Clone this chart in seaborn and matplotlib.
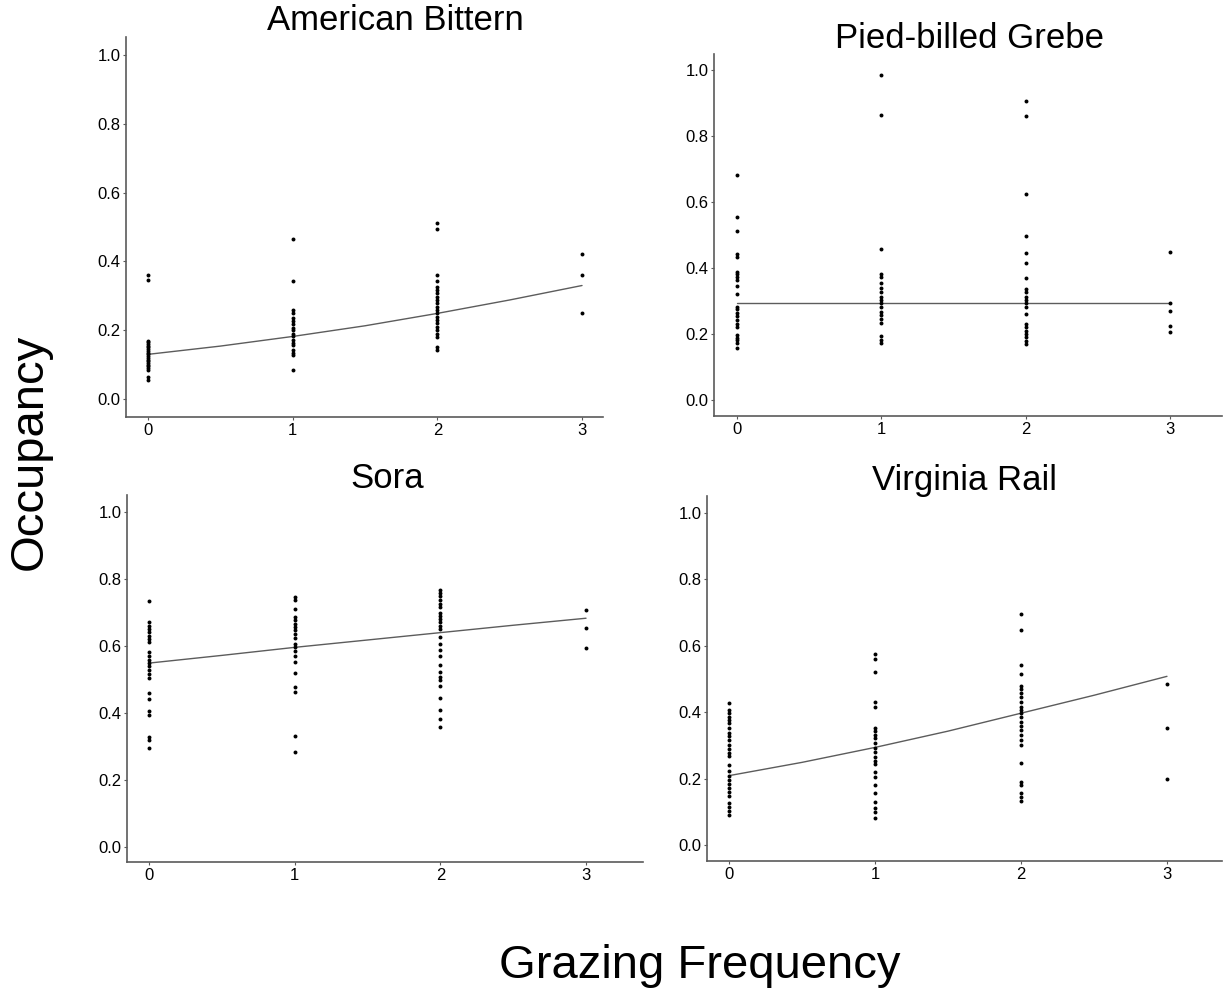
import matplotlib
matplotlib.use("Agg")
import matplotlib.pyplot as plt
import seaborn as sns
import pandas as pd

# ---------------- data ----------------
species = ["American Bittern", "Pied-billed Grebe", "Sora", "Virginia Rail"]
grazing_levels = [0, 1, 2, 3]

ab_g0 = [0.36, 0.345, 0.17, 0.165, 0.16, 0.155, 0.15, 0.145, 0.14, 0.135, 0.13,
         0.125, 0.12, 0.115, 0.11, 0.105, 0.10, 0.095, 0.09, 0.085, 0.065, 0.055]
ab_g1 = [0.464, 0.344, 0.259, 0.249, 0.237, 0.228, 0.218, 0.208, 0.20, 0.19,
         0.183, 0.173, 0.164, 0.156, 0.144, 0.135, 0.127, 0.084]
ab_g2 = [0.513, 0.493, 0.362, 0.344, 0.327, 0.317, 0.307, 0.297, 0.288, 0.278,
         0.268, 0.259, 0.249, 0.239, 0.23, 0.22, 0.21, 0.20, 0.19, 0.181, 0.15, 0.144]
ab_g3 = [0.423, 0.361, 0.251]

pbg_g0 = [0.682, 0.553, 0.512, 0.441, 0.432, 0.389, 0.381, 0.372, 0.364, 0.345,
          0.321, 0.283, 0.275, 0.265, 0.255, 0.242, 0.232, 0.222, 0.197, 0.189,
          0.182, 0.172, 0.157]
pbg_g1 = [0.983, 0.864, 0.458, 0.382, 0.372, 0.354, 0.341, 0.328, 0.313, 0.303,
          0.293, 0.283, 0.268, 0.258, 0.247, 0.234, 0.194, 0.182, 0.172]
pbg_g2 = [0.906, 0.861, 0.623, 0.498, 0.446, 0.416, 0.371, 0.338, 0.326, 0.313,
          0.303, 0.293, 0.283, 0.261, 0.23, 0.22, 0.21, 0.20, 0.19, 0.18, 0.17]
pbg_g3 = [0.448, 0.295, 0.27, 0.225, 0.207]

sora_g0 = [0.735, 0.671, 0.661, 0.651, 0.641, 0.631, 0.621, 0.611, 0.581, 0.571,
           0.559, 0.549, 0.539, 0.529, 0.517, 0.504, 0.46, 0.442, 0.405, 0.395,
           0.328, 0.32, 0.296]
sora_g1 = [0.746, 0.738, 0.712, 0.687, 0.677, 0.667, 0.657, 0.647, 0.637, 0.624,
           0.607, 0.597, 0.584, 0.571, 0.551, 0.519, 0.478, 0.462, 0.332, 0.283]
sora_g2 = [0.768, 0.758, 0.748, 0.738, 0.726, 0.716, 0.70, 0.691, 0.681, 0.671,
           0.661, 0.651, 0.627, 0.607, 0.587, 0.571, 0.544, 0.521, 0.507, 0.498,
           0.482, 0.445, 0.408, 0.382, 0.358]
sora_g3 = [0.708, 0.653, 0.593]

vr_g0 = [0.427, 0.407, 0.397, 0.387, 0.377, 0.367, 0.352, 0.337, 0.327, 0.315,
         0.302, 0.288, 0.278, 0.268, 0.241, 0.224, 0.208, 0.196, 0.184, 0.171,
         0.161, 0.148, 0.126, 0.116, 0.104, 0.092]
vr_g1 = [0.575, 0.56, 0.52, 0.431, 0.417, 0.352, 0.342, 0.332, 0.322, 0.307,
         0.291, 0.281, 0.266, 0.254, 0.244, 0.221, 0.206, 0.181, 0.158, 0.131,
         0.111, 0.101, 0.082]
vr_g2 = [0.696, 0.648, 0.543, 0.515, 0.479, 0.469, 0.459, 0.447, 0.432, 0.417,
         0.407, 0.397, 0.385, 0.372, 0.359, 0.347, 0.332, 0.317, 0.302, 0.246,
         0.191, 0.181, 0.156, 0.144, 0.133]
vr_g3 = [0.484, 0.352, 0.198]

# fitted curves
fit_x = [0, 0.5, 1, 1.5, 2, 2.5, 3]
ab_fit = [0.13, 0.154, 0.182, 0.213, 0.249, 0.288, 0.33]
pbg_fit = [0.295, 0.295, 0.295, 0.295, 0.295, 0.295, 0.295]
sora_fit = [0.549, 0.572, 0.596, 0.618, 0.640, 0.662, 0.683]
vr_fit = [0.209, 0.249, 0.294, 0.343, 0.397, 0.451, 0.508]

y_ticks = [0.0, 0.2, 0.4, 0.6, 0.8, 1.0]
x_label = "Grazing Frequency"
y_label = "Occupancy"

# ---------------- build tables ----------------
point_groups = {
    "American Bittern": [ab_g0, ab_g1, ab_g2, ab_g3],
    "Pied-billed Grebe": [pbg_g0, pbg_g1, pbg_g2, pbg_g3],
    "Sora": [sora_g0, sora_g1, sora_g2, sora_g3],
    "Virginia Rail": [vr_g0, vr_g1, vr_g2, vr_g3],
}
fits = {
    "American Bittern": ab_fit,
    "Pied-billed Grebe": pbg_fit,
    "Sora": sora_fit,
    "Virginia Rail": vr_fit,
}
rows = []
for sp, groups in point_groups.items():
    for g, vals in zip(grazing_levels, groups):
        for v in vals:
            rows.append({"species": sp, "grazing": g, "occupancy": v})
points = pd.DataFrame(rows)
fit_rows = []
for sp, vals in fits.items():
    for xv, yv in zip(fit_x, vals):
        fit_rows.append({"species": sp, "grazing": xv, "occupancy": yv})
fit_df = pd.DataFrame(fit_rows)

# ---------------- style ----------------
sns.set_style("white")
plt.rcParams["font.family"] = ["Liberation Sans", "DejaVu Sans"]

W, H = 1225, 997
fig = plt.figure(figsize=(W / 100, H / 100), dpi=100)

# panel layout in pixels: (left, top, right, bottom), xlim, ylim, title centre
panels = {
    "American Bittern": ((126, 37, 603, 417), (-0.152, 3.145), (-0.052, 1.052), (395, 21)),
    "Pied-billed Grebe": ((714, 54, 1222, 416), (-0.159, 3.36), (-0.048, 1.048), (970, 39)),
    "Sora": ((127, 495, 643, 862), (-0.151, 3.391), (-0.045, 1.051), (387, 479)),
    "Virginia Rail": ((707, 496, 1222, 861), (-0.151, 3.377), (-0.048, 1.051), (964, 480)),
}

spine_col = "#5a5a5a"
for sp in species:
    (l, t, r, b), xl, yl, (tx, ty) = panels[sp]
    ax = fig.add_axes([l / W, 1 - b / H, (r - l) / W, (b - t) / H])
    sub = points[points["species"] == sp]
    sns.scatterplot(data=sub, x="grazing", y="occupancy", ax=ax, color="black",
                    s=8, linewidth=0, legend=False, zorder=3)
    fsub = fit_df[fit_df["species"] == sp]
    sns.lineplot(data=fsub, x="grazing", y="occupancy", ax=ax, color="#5c5c5c",
                 linewidth=1.0, estimator=None, legend=False, zorder=2)
    ax.set_xlim(*xl)
    ax.set_ylim(*yl)
    ax.set_xticks(grazing_levels)
    ax.set_xticklabels([str(g) for g in grazing_levels])
    ax.set_yticks(y_ticks)
    ax.set_yticklabels([f"{v:.1f}" for v in y_ticks])
    ax.set_xlabel("")
    ax.set_ylabel("")
    for s in ["top", "right"]:
        ax.spines[s].set_visible(False)
    for s in ["left", "bottom"]:
        ax.spines[s].set_color(spine_col)
        ax.spines[s].set_linewidth(1.2)
    ax.tick_params(axis="both", which="both", length=2.0, width=0.8,
                   color=spine_col, labelsize=12, labelcolor="black", pad=2,
                   left=True, bottom=True)
    ax.grid(False)
    fig.text(tx / W, 1 - ty / H, sp, ha="center", va="center", fontsize=25,
             color="black")

fig.text(30 / W, 1 - 452 / H, y_label, rotation=90, ha="center", va="center",
         fontsize=34, color="black")
fig.text(700 / W, 1 - 966 / H, x_label, ha="center", va="center",
         fontsize=34, color="black")

fig.savefig("out.png", dpi=100, facecolor="white")
